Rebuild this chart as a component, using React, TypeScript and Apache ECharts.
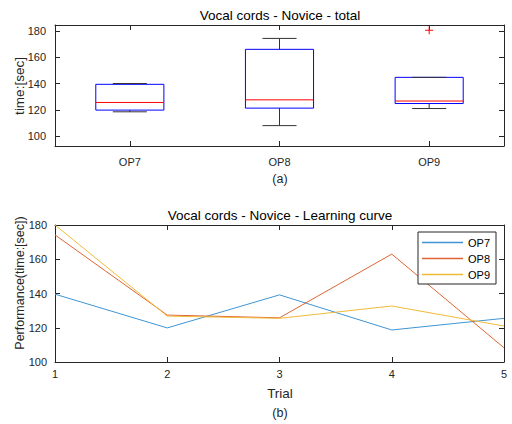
import React, { useEffect, useRef } from "react";
import * as echarts from "echarts";

const FONT = "'Liberation Sans', Arial, Helvetica, sans-serif";

// Box plot (a)
const categories = ["OP7", "OP8", "OP9"];
const whiskerLow = [118.5, 108, 121];
const quartile1 = [119.8, 121.3, 124.8];
const medians = [125.6, 127.6, 126.7];
const quartile3 = [139.4, 166, 144.7];
const whiskerHigh = [140, 174.3, 144.7];
const outliers: [number, number][] = [[2, 180.5]];

// Learning curve (b)
const trials = [1, 2, 3, 4, 5];
const op7 = [139.6, 119.9, 139.2, 118.7, 125.5];
const op8 = [174.2, 127.4, 125.8, 163, 108.3];
const op9 = [180, 126.8, 125.5, 132.7, 121];

const AX = "#262626";

export default function App() {
  const ref = useRef<HTMLDivElement>(null);
  useEffect(() => {
    if (!ref.current) return;
    const chart = echarts.init(ref.current, null, { renderer: "svg" });

    const boxData = categories.map((_, i) => [
      i,
      whiskerLow[i],
      quartile1[i],
      medians[i],
      quartile3[i],
      whiskerHigh[i],
    ]);

    const axisLine = { show: true, lineStyle: { color: AX, width: 1 } };
    const tickIn = { show: true, inside: true, length: 5, lineStyle: { color: AX } };
    const label = { color: AX, fontSize: 11, fontFamily: FONT };

    const option: any = {
      animation: false,
      backgroundColor: "#fff",
      grid: [
        { left: 55, top: 25, width: 449, height: 121 },
        { left: 55, top: 225, width: 449, height: 137 },
      ],
      xAxis: [
        {
          gridIndex: 0,
          type: "category",
          data: categories,
          boundaryGap: true,
          axisLine,
          axisTick: { ...tickIn, alignWithLabel: true },
          axisLabel: { ...label, margin: 10 },
          splitLine: { show: false },
        },
        {
          gridIndex: 0,
          type: "category",
          position: "top",
          data: categories,
          boundaryGap: true,
          axisLine,
          axisTick: { ...tickIn, alignWithLabel: true },
          axisLabel: { show: false },
          splitLine: { show: false },
        },
        {
          gridIndex: 1,
          type: "value",
          min: 1,
          max: 5,
          interval: 1,
          axisLine,
          axisTick: tickIn,
          axisLabel: { ...label, margin: 6 },
          splitLine: { show: false },
        },
        {
          gridIndex: 1,
          type: "value",
          position: "top",
          min: 1,
          max: 5,
          interval: 1,
          axisLine,
          axisTick: tickIn,
          axisLabel: { show: false },
          splitLine: { show: false },
        },
      ],
      yAxis: [
        {
          gridIndex: 0,
          type: "value",
          min: 92.5,
          max: 184.5,
          splitNumber: 5,
          axisLine,
          axisTick: tickIn,
          axisLabel: { ...label, margin: 9, showMinLabel: false, showMaxLabel: false },
          splitLine: { show: false },
        },
        {
          gridIndex: 0,
          type: "value",
          position: "right",
          min: 92.5,
          max: 184.5,
          splitNumber: 5,
          axisLine,
          axisTick: tickIn,
          axisLabel: { show: false },
          splitLine: { show: false },
        },
        {
          gridIndex: 1,
          type: "value",
          min: 100,
          max: 180,
          interval: 20,
          axisLine,
          axisTick: tickIn,
          axisLabel: { ...label, margin: 8 },
          splitLine: { show: false },
        },
        {
          gridIndex: 1,
          type: "value",
          position: "right",
          min: 100,
          max: 180,
          interval: 20,
          axisLine,
          axisTick: tickIn,
          axisLabel: { show: false },
          splitLine: { show: false },
        },
      ],
      legend: {
        data: ["OP7", "OP8", "OP9"],
        orient: "vertical",
        left: 418,
        top: 232,
        icon: "rect",
        itemWidth: 41,
        itemHeight: 1.5,
        itemGap: 3,
        padding: [4, 6, 3, 4],
        borderColor: AX,
        borderWidth: 1,
        borderRadius: 0,
        backgroundColor: "#fff",
        textStyle: { fontSize: 11, color: "#000", fontFamily: FONT, lineHeight: 13 },
      },
      series: [
        {
          type: "custom",
          name: "box",
          xAxisIndex: 0,
          yAxisIndex: 0,
          data: boxData,
          renderItem: (params: any, api: any) => {
            const idx = api.value(0);
            const lo = api.coord([idx, api.value(1)]);
            const b1 = api.coord([idx, api.value(2)]);
            const md = api.coord([idx, api.value(3)]);
            const b3 = api.coord([idx, api.value(4)]);
            const hi = api.coord([idx, api.value(5)]);
            const bw = api.size([1, 0])[0] * 0.455;
            const cx = lo[0];
            const half = bw / 2;
            const cap = bw / 4;
            const wStyle = { stroke: "#333", lineWidth: 1 };
            return {
              type: "group",
              children: [
                { type: "line", shape: { x1: cx, y1: b3[1], x2: cx, y2: hi[1] }, style: wStyle },
                { type: "line", shape: { x1: cx, y1: b1[1], x2: cx, y2: lo[1] }, style: wStyle },
                {
                  type: "rect",
                  shape: { x: cx - half, y: b3[1], width: bw, height: b1[1] - b3[1] },
                  style: { fill: "none", stroke: "#0000FF", lineWidth: 1 },
                },
                { type: "line", shape: { x1: cx - half, y1: md[1], x2: cx + half, y2: md[1] }, style: { stroke: "#FF0000", lineWidth: 1 } },
                { type: "line", shape: { x1: cx - cap, y1: hi[1], x2: cx + cap, y2: hi[1] }, style: wStyle },
                { type: "line", shape: { x1: cx - cap, y1: lo[1], x2: cx + cap, y2: lo[1] }, style: wStyle },
              ],
            };
          },
        },
        {
          type: "custom",
          name: "outliers",
          xAxisIndex: 0,
          yAxisIndex: 0,
          data: outliers,
          renderItem: (params: any, api: any) => {
            const p = api.coord([api.value(0), api.value(1)]);
            const s = 4;
            const st = { stroke: "#FF0000", lineWidth: 1 };
            return {
              type: "group",
              children: [
                { type: "line", shape: { x1: p[0] - s, y1: p[1], x2: p[0] + s, y2: p[1] }, style: st },
                { type: "line", shape: { x1: p[0], y1: p[1] - s, x2: p[0], y2: p[1] + s }, style: st },
              ],
            };
          },
        },
        {
          type: "line",
          name: "OP7",
          xAxisIndex: 2,
          yAxisIndex: 2,
          data: trials.map((t, i) => [t, op7[i]]),
          symbol: "none",
          color: "#3F95D2",
          lineStyle: { width: 1, color: "#3F95D2" },
        },
        {
          type: "line",
          name: "OP8",
          xAxisIndex: 2,
          yAxisIndex: 2,
          data: trials.map((t, i) => [t, op8[i]]),
          symbol: "none",
          color: "#DE6534",
          lineStyle: { width: 1, color: "#DE6534" },
        },
        {
          type: "line",
          name: "OP9",
          xAxisIndex: 2,
          yAxisIndex: 2,
          data: trials.map((t, i) => [t, op9[i]]),
          symbol: "none",
          color: "#F0BA38",
          lineStyle: { width: 1, color: "#F0BA38" },
        },
      ],
      graphic: [
        { type: "text", x: 280, y: 15, style: { text: "Vocal cords - Novice - total", fontSize: 13.5, fontFamily: FONT, fill: "#000", align: "center", verticalAlign: "middle" } },
        { type: "text", x: 280, y: 215, style: { text: "Vocal cords - Novice - Learning curve", fontSize: 13.5, fontFamily: FONT, fill: "#000", align: "center", verticalAlign: "middle" } },
        { type: "text", x: 19, y: 86, rotation: Math.PI / 2, style: { text: "time:[sec]", fontSize: 13.5, fontFamily: FONT, fill: AX, align: "center", verticalAlign: "middle" } },
        { type: "text", x: 20, y: 283, rotation: Math.PI / 2, style: { text: "Performance(time:[sec])", fontSize: 12.5, fontFamily: FONT, fill: AX, align: "center", verticalAlign: "middle" } },
        { type: "text", x: 280, y: 179, style: { text: "(a)", fontSize: 12.5, fontFamily: FONT, fill: AX, align: "center", verticalAlign: "middle" } },
        { type: "text", x: 280, y: 393, style: { text: "Trial", fontSize: 13.5, fontFamily: FONT, fill: AX, align: "center", verticalAlign: "middle" } },
        { type: "text", x: 280, y: 413, style: { text: "(b)", fontSize: 12.5, fontFamily: FONT, fill: AX, align: "center", verticalAlign: "middle" } },
      ],
    };

    chart.setOption(option);
    return () => chart.dispose();
  }, []);

  return (
    <div
      ref={ref}
      style={{ position: "absolute", left: 0, top: 0, width: 512, height: 424, background: "#fff" }}
    />
  );
}
